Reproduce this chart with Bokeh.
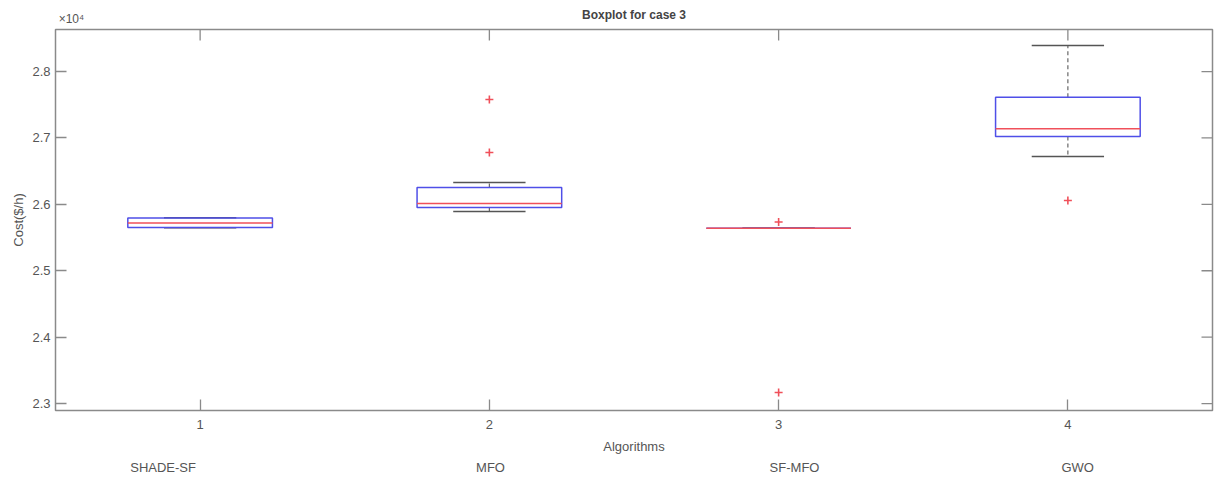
from bokeh.plotting import figure
from bokeh.models import (Range1d, LinearAxis, FixedTicker, ColumnDataSource)
from bokeh.embed import file_html
from bokeh.resources import INLINE

# ---------------- data (Cost in $/h) ----------------
algorithms = ["SHADE-SF", "MFO", "SF-MFO", "GWO"]
positions = [1, 2, 3, 4]
whisker_low = [25648, 25892, 25640, 26720]
q1 = [25650, 25952, 25640, 27021]
median = [25720, 26012, 25640, 27137]
q3 = [25795, 26253, 25640, 27613]
whisker_high = [25797, 26328, 25640, 28392]
outlier_x = [2, 2, 3, 3, 4]
outlier_y = [27578, 26780, 25735, 23166, 26057]
y_ticks = [2.3, 2.4, 2.5, 2.6, 2.7, 2.8]
SCALE = 1e4
TITLE = "Boxplot for case 3"
EXPONENT = "×10⁴"

# label positions for the algorithm names (as placed in the original figure)
name_positions = [0.872, 2.004, 3.055, 4.034]
exponent_position = 0.555

# ---------------- styles ----------------
FONT = "Liberation Sans"
TXT = "#555555"
AX = "#8a8a8a"
BLUE = "#4f4fe8"
RED = "#f0505a"
BOX_HALF = 0.25
CAP_HALF = 0.125
X0, X1 = 0.5, 4.5
Y0, Y1 = 2.2895, 2.8633
W, H = 1218, 477
ML, MR, MT, MB = 55, 6, 29, 67
TICK_PX = 11

p = figure(width=W, height=H, output_backend="svg", toolbar_location=None,
           x_range=Range1d(X0, X1), y_range=Range1d(Y0, Y1),
           min_border_left=ML, min_border_right=MR, min_border_top=MT,
           min_border_bottom=MB, background_fill_color="white",
           border_fill_color="white")
p.title.visible = False
p.grid.visible = False
p.outline_line_color = AX
p.outline_line_width = 1.5

s = 1.0 / SCALE
src = ColumnDataSource(dict(
    x=positions,
    left=[x - BOX_HALF for x in positions],
    right=[x + BOX_HALF for x in positions],
    cl=[x - CAP_HALF for x in positions],
    cr=[x + CAP_HALF for x in positions],
    lo=[v * s for v in whisker_low],
    q1=[v * s for v in q1],
    med=[v * s for v in median],
    q3=[v * s for v in q3],
    hi=[v * s for v in whisker_high],
))

# whiskers (dashed)
p.segment(x0="x", y0="q3", x1="x", y1="hi", source=src, line_color="#666666",
          line_width=1.2, line_dash="4 3")
p.segment(x0="x", y0="q1", x1="x", y1="lo", source=src, line_color="#666666",
          line_width=1.2, line_dash="4 3")
# caps
p.segment(x0="cl", y0="hi", x1="cr", y1="hi", source=src, line_color="#555555", line_width=1.5)
p.segment(x0="cl", y0="lo", x1="cr", y1="lo", source=src, line_color="#555555", line_width=1.5)
# boxes
p.quad(left="left", right="right", bottom="q1", top="q3", source=src,
       fill_color=None, line_color=BLUE, line_width=1.5)
# medians
p.segment(x0="left", y0="med", x1="right", y1="med", source=src, line_color=RED, line_width=1.5)
# outliers
p.scatter(x=outlier_x, y=[v * s for v in outlier_y], marker="cross", size=8,
          line_color=RED, line_width=1.6)

# mirrored inward ticks on top and right edges (tick length in pixels -> data)
fw = W - ML - MR
fh = H - MT - MB
dy = TICK_PX * (Y1 - Y0) / fh
dx = TICK_PX * (X1 - X0) / fw
p.segment(x0=positions, y0=[Y1] * len(positions), x1=positions,
          y1=[Y1 - dy] * len(positions), line_color=AX, line_width=1.3)
p.segment(x0=[X1] * len(y_ticks), y0=y_ticks, x1=[X1 - dx] * len(y_ticks),
          y1=y_ticks, line_color=AX, line_width=1.3)

# ---------------- axes ----------------
def style_axis(ax):
    ax.axis_line_color = None
    ax.major_tick_in = TICK_PX
    ax.major_tick_out = 0
    ax.minor_tick_line_color = None
    ax.major_tick_line_color = AX
    ax.major_tick_line_width = 1.3
    ax.major_label_text_font = FONT
    ax.major_label_text_font_size = "13px"
    ax.major_label_text_color = TXT
    ax.axis_label_text_font = FONT
    ax.axis_label_text_font_size = "13px"
    ax.axis_label_text_font_style = "normal"
    ax.axis_label_text_color = TXT

xa = p.xaxis[0]
xa.ticker = FixedTicker(ticks=positions)
xa.axis_label = "Algorithms"
style_axis(xa)
xa.major_label_standoff = 9
xa.axis_label_standoff = 7

ya = p.yaxis[0]
ya.ticker = FixedTicker(ticks=y_ticks)
ya.axis_label = "Cost($/h)"
style_axis(ya)
ya.major_label_standoff = 5
ya.axis_label_standoff = 3

# algorithm names axis
xn = LinearAxis(ticker=FixedTicker(ticks=name_positions),
                major_label_overrides={k: n for k, n in zip(name_positions, algorithms)})
style_axis(xn)
xn.major_tick_in = 0
xn.major_tick_line_color = None
xn.major_label_standoff = 3
p.add_layout(xn, "below")

# top axis: exponent marker as tick label, title as axis label
xt = LinearAxis(ticker=FixedTicker(ticks=[exponent_position]),
                major_label_overrides={exponent_position: EXPONENT},
                axis_label=TITLE)
style_axis(xt)
xt.major_tick_in = 0
xt.major_tick_line_color = None
xt.major_label_text_font_size = "12px"
xt.major_label_standoff = 4
xt.axis_label_text_font_size = "12px"
xt.axis_label_text_font_style = "bold"
xt.axis_label_text_color = "#444444"
xt.axis_label_standoff = -13
p.add_layout(xt, "above")

open("out.html", "w").write(file_html(p, INLINE))
